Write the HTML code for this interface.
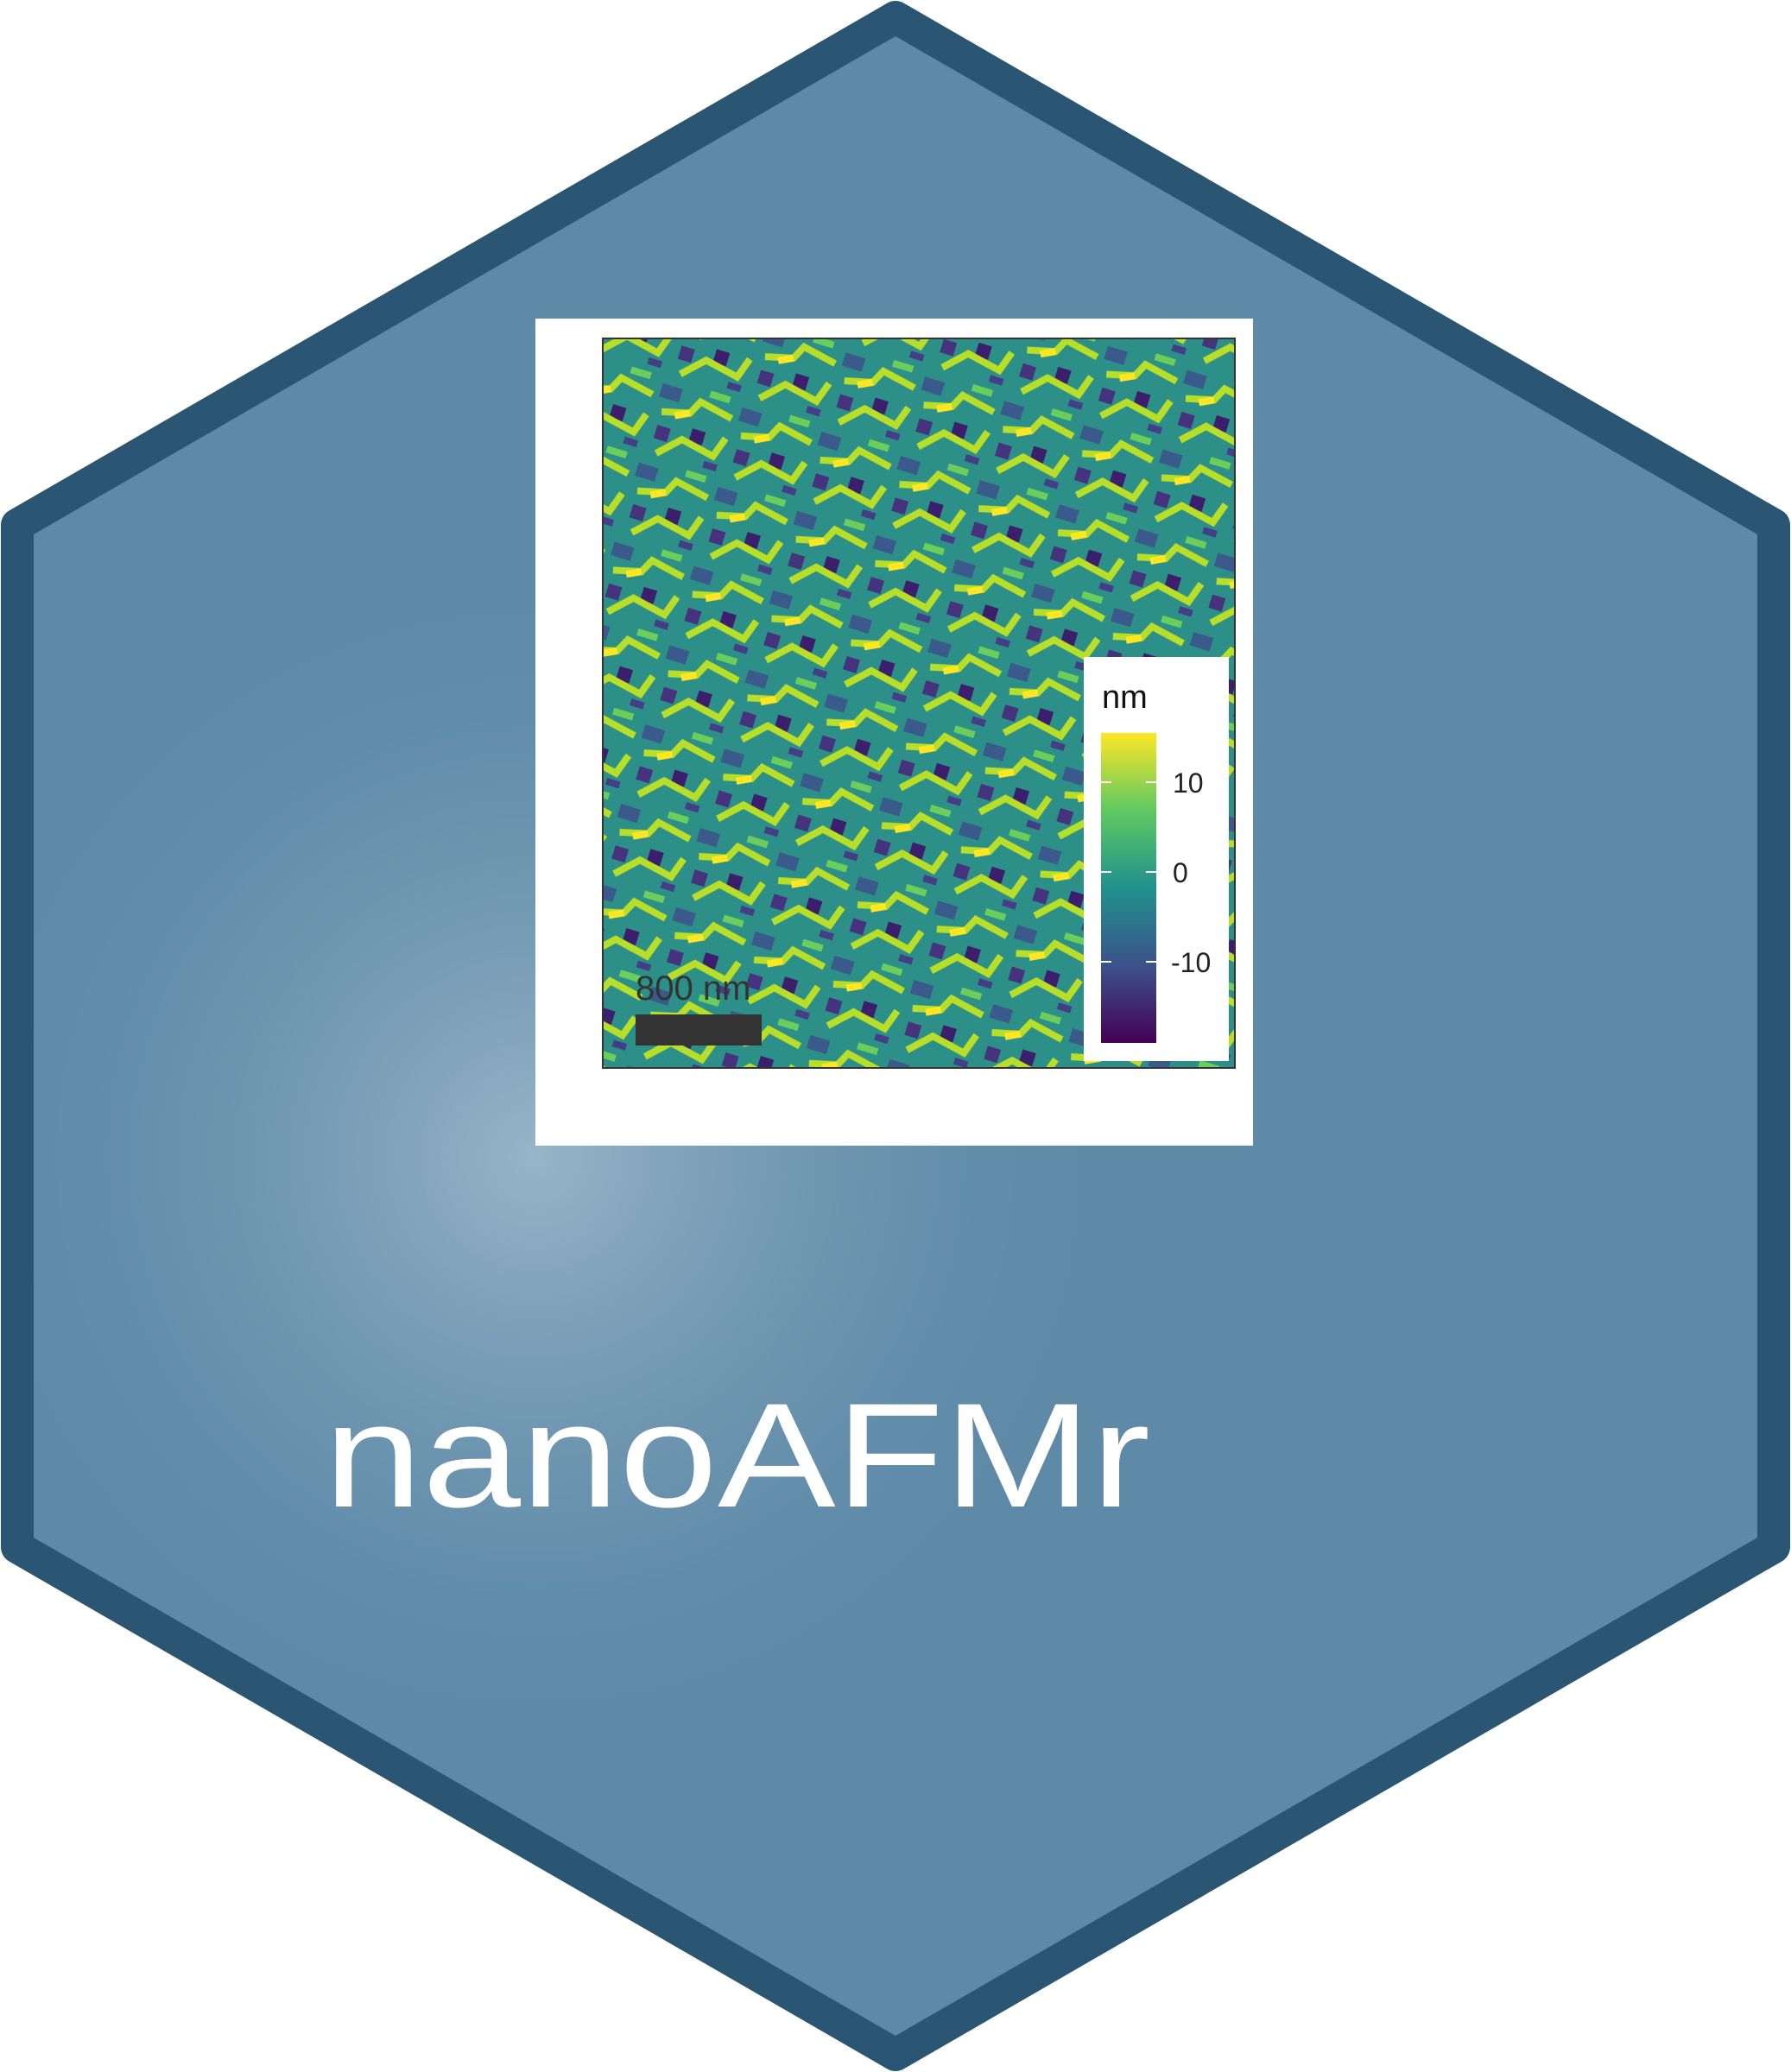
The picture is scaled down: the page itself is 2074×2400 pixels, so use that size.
<!DOCTYPE html>
<html><head><meta charset="utf-8"><style>
html,body{margin:0;padding:0;background:#fff;width:2074px;height:2400px;overflow:hidden}
svg{display:block}
</style></head><body>
<svg width="2074" height="2400" viewBox="0 0 2074 2400">
<defs>
<radialGradient id="glow" cx="620" cy="1340" r="700" gradientUnits="userSpaceOnUse">
<stop offset="0" stop-color="#a6bfd0" stop-opacity="0.8"/>
<stop offset="0.5" stop-color="#8aaac0" stop-opacity="0.35"/>
<stop offset="1" stop-color="#5e8aa8" stop-opacity="0"/>
</radialGradient>
<pattern id="afm" width="96" height="96" patternUnits="userSpaceOnUse" patternTransform="rotate(17)">
<rect width="96" height="96" fill="#2c9088"/>
<rect x="0" y="8" width="24" height="16" fill="#3b5a8c"/>
<rect x="48" y="48" width="16" height="16" fill="#3c1f6c"/>
<rect x="56" y="0" width="24" height="8" fill="#6cce5a"/>
<path d="M8 40 L40 32 L48 16 L88 24 M16 88 L40 64 L80 72 L88 48" stroke="#b8de29" stroke-width="8" fill="none"/>
<path d="M24 40 L40 32" stroke="#fde725" stroke-width="8"/>
<rect x="8" y="56" width="16" height="16" fill="#46337e"/>
<rect x="72" y="80" width="16" height="8" fill="#433e85"/>
</pattern>
</defs>
<polygon points="1037,20 2054,608 2054,1792 1037,2380 20,1792 20,608" fill="#5e8aa8"/>
<polygon points="1037,20 2054,608 2054,1792 1037,2380 20,1792 20,608" fill="url(#glow)"/>
<polygon points="1037,20 2054,608 2054,1792 1037,2380 20,1792 20,608" fill="none" stroke="#2a5673" stroke-width="38" stroke-linejoin="round"/>
<rect x="620" y="369" width="831" height="958" fill="#ffffff"/>
<rect x="698" y="392" width="732" height="845" fill="url(#afm)" stroke="#333" stroke-width="2"/>
<text x="736" y="1158" font-family="Liberation Sans, sans-serif" font-size="40" fill="#333">800 nm</text>
<rect x="736" y="1175" width="146" height="36" fill="#333"/>
<rect x="1255" y="761" width="168" height="468" fill="#ffffff"/>
<text x="1276" y="820" font-family="Liberation Sans, sans-serif" font-size="38" fill="#111">nm</text>
<defs><linearGradient id="viridis" x1="0" y1="1" x2="0" y2="0">
<stop offset="0" stop-color="#440154"/><stop offset="0.25" stop-color="#3b528b"/><stop offset="0.5" stop-color="#21918c"/><stop offset="0.75" stop-color="#5ec962"/><stop offset="1" stop-color="#fde725"/></linearGradient></defs>
<rect x="1275" y="849" width="64" height="359" fill="url(#viridis)"/>
<g stroke="#fff" stroke-width="2"><line x1="1275" y1="906" x2="1287" y2="906"/><line x1="1327" y1="906" x2="1339" y2="906"/><line x1="1275" y1="1010" x2="1287" y2="1010"/><line x1="1327" y1="1010" x2="1339" y2="1010"/><line x1="1275" y1="1114" x2="1287" y2="1114"/><line x1="1327" y1="1114" x2="1339" y2="1114"/></g>
<g font-family="Liberation Sans, sans-serif" font-size="32" fill="#222">
<text x="1358" y="918">10</text>
<text x="1358" y="1022">0</text>
<text x="1356" y="1126">-10</text>
</g>
<text x="375" y="1745" font-family="Liberation Sans, sans-serif" font-size="172" fill="#ffffff" textLength="957" lengthAdjust="spacingAndGlyphs">nanoAFMr</text>
</svg>
</body></html>
